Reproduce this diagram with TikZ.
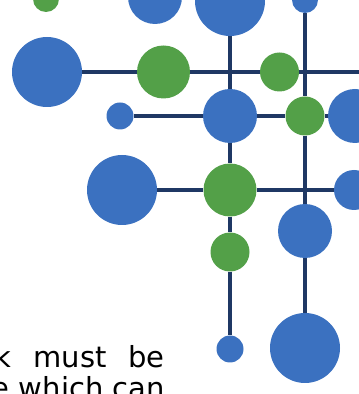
\documentclass[tikz,border=0pt]{standalone}
\usepackage{fontspec}
\setmainfont{DejaVu Sans}
\definecolor{dotblue}{RGB}{59,113,192}
\definecolor{dotgreen}{RGB}{83,160,72}
\definecolor{linknavy}{RGB}{31,56,100}
\begin{document}
\begin{tikzpicture}
  [x=1pt,y=1pt,
   blob/.style={circle,inner sep=0pt,minimum size=#1},
   bblob/.style={blob=#1,fill=dotblue},
   gblob/.style={blob=#1,fill=dotgreen},
   link/.style={draw=linknavy,line width=3.2pt}]
  \useasboundingbox (0,0) rectangle (359,394);
  \clip (0,0) rectangle (359,394);

  % top row, partly cut off
  \node[gblob=26] (g1) at (46,395) {};
  \node[bblob=54] (b1) at (155,397) {};
  \node[bblob=70] (b2) at (230,393) {};
  \node[bblob=26] (b3) at (305,394) {};
  % first line
  \node[bblob=70] (b4) at (47,322) {};
  \node[gblob=53] (g2) at (163.5,322) {};
  \node[gblob=39] (g3) at (279.5,322) {};
  \coordinate (r1) at (370,322);
  % second line
  \node[bblob=27] (b5) at (120,278) {};
  \node[bblob=54] (b6) at (230,278) {};
  \node[gblob=39] (g4) at (305,278) {};
  \node[bblob=54] (b7) at (355,278) {};
  % third line
  \node[bblob=70] (b8) at (122,204) {};
  \node[gblob=53] (g5) at (230,204) {};
  \node[bblob=40] (b9) at (354,204) {};
  % lower part
  \node[gblob=39] (g6) at (230,142) {};
  \node[bblob=54] (b10) at (305,163) {};
  \node[bblob=27] (b11) at (230,45) {};
  \node[bblob=70] (b12) at (305,46) {};

  \foreach \from/\to in {b4/g2,g2/g3,g3/r1,b5/b6,b6/g4,g4/b7,b8/g5,g5/b9,
                         b2/b6,b6/g5,g5/g6,g6/b11,b3/g4,g4/b10,b10/b12}
    \draw[link] (\from) -- (\to);

  % cut paragraph text
  \node[inner sep=0pt,anchor=base east,font=\fontsize{29}{35}\selectfont] (txt1) at (165,27)
    {k\hspace{22pt}must\hspace{22pt}be};
  \node[inner sep=0pt,anchor=base east,font=\fontsize{29}{35}\selectfont] (txt2) at (165,-5)
    {e which can};
\end{tikzpicture}
\end{document}
